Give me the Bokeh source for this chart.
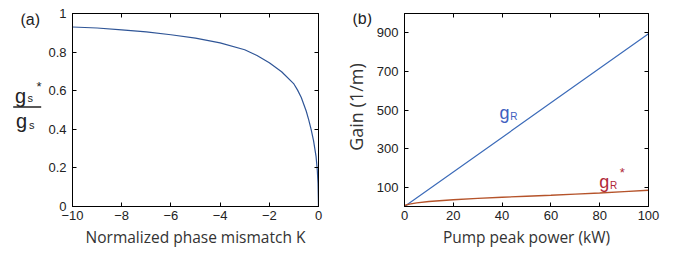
import math
from bokeh.plotting import figure
from bokeh.models import (LinearAxis, FixedTicker, Range1d)
from bokeh.core.properties import value
from bokeh.layouts import row
from bokeh.embed import file_html
from bokeh.resources import INLINE

# ---- data: panel (a)
mismatch_K = [-10, -9, -8, -7, -6, -5, -4, -3, -2.5, -2, -1.5, -1, -0.85, -0.7, -0.5, -0.4, -0.3, -0.2, -0.1, -0.05, -0.02, 0]
gain_ratio = [0.93, 0.925, 0.915, 0.905, 0.89, 0.872, 0.848, 0.812, 0.782, 0.745, 0.698, 0.635, 0.603, 0.565, 0.495, 0.45, 0.40, 0.34, 0.26, 0.19, 0.12, 0.0]
a_xticks = [-10, -8, -6, -4, -2, 0]
a_xlabels = ["-10", "-8", "-6", "-4", "-2", "0"]
a_yticks = [0, 0.2, 0.4, 0.6, 0.8, 1]
a_ylabels = ["0", "0.2", "0.4", "0.6", "0.8", "1"]

# ---- data: panel (b)
pump_kW = [0, 20, 40, 60, 80, 100]
g_R = [0, 179, 358, 537, 716, 895]
pump_kW_star = [0, 2, 5, 10, 20, 30, 40, 50, 60, 70, 80, 90, 100]
g_R_star = [5, 12, 19, 26, 35, 42, 48, 53, 58, 64, 70, 77, 84]
b_xticks = [0, 20, 40, 60, 80, 100]
b_yticks = [100, 300, 500, 700, 900]

TICK_FONT = "Liberation Sans"
LABEL_FONT = "Open Sans"
H = 250
TOP, BOTTOM = 13, 43


def style(p, xt, yt, xlab=None):
    p.outline_line_color = "black"
    p.outline_line_width = 1
    p.grid.visible = False
    for ax in (p.xaxis[0], p.yaxis[0]):
        ax.major_tick_in = 4
        ax.major_tick_out = 0
        ax.minor_tick_line_color = None
        ax.axis_line_color = "black"
        ax.major_label_text_font = TICK_FONT
        ax.major_label_text_font_size = "13px"
        ax.major_label_text_color = "#222222"
    p.xaxis[0].ticker = FixedTicker(ticks=xt)
    p.yaxis[0].ticker = FixedTicker(ticks=yt)
    p.xaxis[0].major_label_standoff = 4
    p.yaxis[0].major_label_standoff = 6
    if xlab:
        ax = p.xaxis[0]
        ax.axis_label = xlab
        ax.axis_label_text_font = LABEL_FONT
        ax.axis_label_text_font_style = "normal"
        ax.axis_label_text_color = "#333333"
        ax.axis_label_text_font_size = "15.5px"
        ax.axis_label_standoff = 3
    # mirrored tick marks on top / right (no labels)
    top = LinearAxis(ticker=FixedTicker(ticks=xt), major_label_overrides={t: "" for t in xt},
                     major_label_text_color=None, major_tick_in=4, major_tick_out=0,
                     minor_tick_line_color=None, major_label_standoff=0)
    right = LinearAxis(ticker=FixedTicker(ticks=yt), major_label_overrides={t: "" for t in yt},
                       major_label_text_color=None, major_tick_in=4, major_tick_out=0,
                       minor_tick_line_color=None, major_label_standoff=0)
    p.add_layout(top, "above")
    p.add_layout(right, "right")


def strip(w):
    # frame is aligned with neighbouring plots (TOP..H-BOTTOM); y data = H - page y
    s = figure(width=w, height=H, output_backend="svg", toolbar_location=None, title=None,
               x_range=Range1d(0, w), y_range=Range1d(BOTTOM, H - TOP),
               min_border_left=0, min_border_right=0, min_border_top=TOP, min_border_bottom=BOTTOM)
    s.axis.visible = False
    s.grid.visible = False
    s.outline_line_color = None
    return s


ink = "#222222"
# ---------- label strip for (a)
sa = strip(43)
sa.text(x=[20], y=[H - 19.5], text=["(a)"], text_font=value(TICK_FONT), text_font_size="16px",
        text_baseline="middle", text_color=ink)
sa.text(x=[14.5, 15.5], y=[H - 95.5, H - 121.5], text=["g", "g"], text_font=value(TICK_FONT),
        text_font_size="20px", text_baseline="alphabetic", text_color=ink)
sa.text(x=[27, 28.5], y=[H - 98, H - 125], text=["s", "s"], text_font=value(TICK_FONT),
        text_font_size="11px", text_baseline="alphabetic", text_color=ink)
sa.text(x=[36], y=[H - 86], text=["*"], text_font=value(TICK_FONT),
        text_font_size="13px", text_baseline="middle", text_color=ink)
sa.segment(x0=[12.7], y0=[H - 107], x1=[40.7], y1=[H - 107], line_color=ink, line_width=1.3)

# ---------- panel (a)
pa = figure(width=297, height=H, output_backend="svg", toolbar_location=None,
            x_range=Range1d(-10, 0), y_range=Range1d(0, 1),
            min_border_left=29, min_border_right=22, min_border_top=TOP, min_border_bottom=BOTTOM)
style(pa, a_xticks, a_yticks, xlab="Normalized phase mismatch K")
pa.xaxis[0].major_label_overrides = {t: s for t, s in zip(a_xticks, a_xlabels)}
pa.yaxis[0].major_label_overrides = {t: s for t, s in zip(a_yticks, a_ylabels)}
pa.line(mismatch_K, gain_ratio, line_color="#2f5597", line_width=1.2)

# ---------- label strip for (b)
sb = strip(33)
sb.text(x=[12], y=[H - 18.5], text=["(b)"], text_font=value(TICK_FONT), text_font_size="16px",
        text_baseline="middle", text_color=ink)
sb.text(x=[15], y=[H - 107], text=["Gain (1/m)"], angle=math.pi / 2, text_font=value(LABEL_FONT),
        text_font_size="18px", text_align="center", text_baseline="middle", text_color="#333333")

# ---------- panel (b)
pb = figure(width=304, height=H, output_backend="svg", toolbar_location=None,
            x_range=Range1d(0, 100), y_range=Range1d(0, 1000),
            min_border_left=28, min_border_right=29, min_border_top=TOP, min_border_bottom=BOTTOM)
style(pb, b_xticks, b_yticks, xlab="Pump peak power (kW)")
pb.line(pump_kW, g_R, line_color="#3d6cb9", line_width=1.2)
pb.line(pump_kW_star, g_R_star, line_color="#b5532a", line_width=1.4)

blue, red = "#4060c0", "#b02838"
pb.text(x=[38.9], y=[482], text=["g"], text_font=value(TICK_FONT), text_font_size="18px",
        text_color=blue, text_baseline="alphabetic")
pb.text(x=[43.3], y=[464], text=["R"], text_font=value(TICK_FONT), text_font_size="10px",
        text_color=blue, text_baseline="alphabetic")
pb.text(x=[79.8], y=[129], text=["g"], text_font=value(TICK_FONT), text_font_size="18px",
        text_color=red, text_baseline="alphabetic")
pb.text(x=[84.2], y=[108], text=["R"], text_font=value(TICK_FONT), text_font_size="10px",
        text_color=red, text_baseline="alphabetic")
pb.text(x=[88.2], y=[178], text=["*"], text_font=value(TICK_FONT), text_font_size="13px",
        text_color=red, text_baseline="middle")

layout = row(sa, pa, sb, pb, spacing=0)
open("out.html", "w").write(file_html(layout, INLINE))
